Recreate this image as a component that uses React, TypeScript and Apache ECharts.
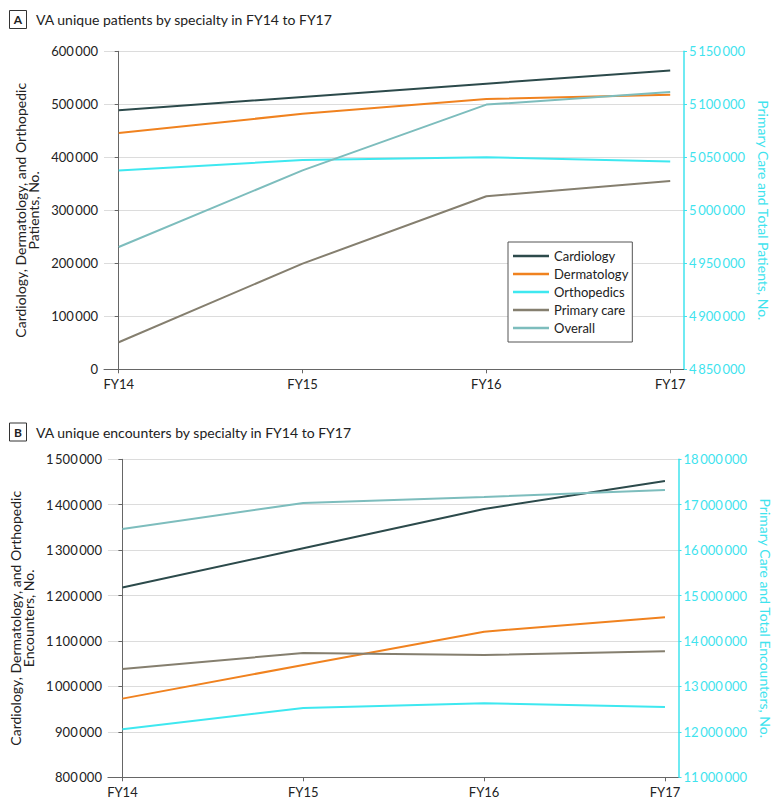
import React, { useEffect, useRef } from "react";
import * as echarts from "echarts";

const fyLabels = ["FY14", "FY15", "FY16", "FY17"];
const seriesNames = ["Cardiology", "Dermatology", "Orthopedics", "Primary care", "Overall"];

// Panel A: unique patients
const patCardiology = [489000, 514000, 539000, 564000];
const patDermatology = [446000, 482000, 510000, 518000];
const patOrthopedics = [375000, 395000, 400000, 392000];
const patPrimaryCare = [4875500, 4949700, 5013200, 5027700];
const patOverall = [4965400, 5037700, 5099700, 5111600];

// Panel B: unique encounters
const encCardiology = [1217600, 1304100, 1390600, 1452300];
const encDermatology = [973200, 1047300, 1120600, 1152200];
const encOrthopedics = [905700, 952600, 962900, 954800];
const encPrimaryCare = [13384000, 13737000, 13693000, 13774000];
const encOverall = [16465000, 17038000, 17170000, 17325000];

const colors: Record<string, string> = {
  Cardiology: "#2c4a4b",
  Dermatology: "#f0821f",
  Orthopedics: "#3ee8f0",
  "Primary care": "#857f6f",
  Overall: "#7dbdbd",
};
const cyan = "#3fe3ee";
const font = "Lato, 'Open Sans', sans-serif";

const fmt = (v: number) => String(v).replace(/\B(?=(\d{3})+(?!\d))/g, "\u2009");

export default function App() {
  const ref = useRef<HTMLDivElement>(null);
  useEffect(() => {
    document.body.style.margin = "0";
    if (!ref.current) return;
    const chart = echarts.init(ref.current, undefined, { renderer: "svg" });

    const mk = (name: string, vals: number[], xi: number, yi: number) => ({
      name,
      type: "line",
      xAxisIndex: xi,
      yAxisIndex: yi,
      symbol: "none",
      lineStyle: { width: 2, color: colors[name] },
      itemStyle: { color: colors[name] },
      data: vals.map((v, i) => [i, v]),
    });

    const xAxisCfg = (gi: number) => ({
      type: "value",
      gridIndex: gi,
      min: -0.08,
      max: 3.075,
      splitLine: { show: false },
      axisLine: { show: true, lineStyle: { color: "#666", width: 1 } },
      axisTick: { show: true, length: 4, customValues: [0, 1, 2, 3], lineStyle: { color: "#666" } },
      axisLabel: {
        customValues: [0, 1, 2, 3],
        formatter: (v: number) => fyLabels[Math.round(v)] ?? "",
        color: "#222",
        fontSize: 13,
        fontFamily: font,
        margin: 8,
      },
    });

    const leftY = (gi: number, min: number, max: number, interval: number, name: string) => ({
      type: "value",
      gridIndex: gi,
      position: "left",
      min,
      max,
      interval,
      name,
      nameLocation: "middle",
      nameRotate: 90,
      nameGap: 55,
      nameTextStyle: { color: "#222", fontSize: 14, fontFamily: font, lineHeight: 13 },
      axisLine: { show: true, lineStyle: { color: "#666", width: 1 } },
      axisTick: { show: true, length: 4, lineStyle: { color: "#666" } },
      axisLabel: { formatter: fmt, color: "#222", fontSize: 13, fontFamily: font, margin: 6 },
      splitLine: { show: true, lineStyle: { color: "#dcdcdc", width: 1 } },
    });

    const rightY = (gi: number, min: number, max: number, interval: number, name: string) => ({
      type: "value",
      gridIndex: gi,
      position: "right",
      min,
      max,
      interval,
      name,
      nameLocation: "middle",
      nameRotate: -90,
      nameGap: 72,
      nameTextStyle: { color: cyan, fontSize: 14, fontFamily: font },
      axisLine: { show: true, lineStyle: { color: cyan, width: 1.5 } },
      axisTick: { show: true, length: 3, lineStyle: { color: cyan } },
      axisLabel: { formatter: fmt, color: cyan, fontSize: 13, fontFamily: font, margin: 5 },
      splitLine: { show: false },
    });

    const titleGraphic = (letter: string, text: string, y: number) => [
      {
        type: "rect",
        shape: { x: 9.5, y: y - 9, width: 17, height: 18 },
        style: { fill: "#fff", stroke: "#333", lineWidth: 1 },
      },
      {
        type: "text",
        x: 18,
        y,
        style: {
          text: letter,
          font: `bold 12px ${font}`,
          fill: "#222",
          textAlign: "center",
          textVerticalAlign: "middle",
        },
      },
      {
        type: "text",
        x: 36,
        y,
        style: {
          text,
          font: `14px ${font}`,
          fill: "#222",
          textAlign: "left",
          textVerticalAlign: "middle",
        },
      },
    ];

    chart.setOption({
      animation: false,
      backgroundColor: "#fff",
      grid: [
        { left: 104, right: 96, top: 51.3, height: 318 },
        { left: 104, right: 96, top: 459.3, height: 318 },
      ],
      xAxis: [xAxisCfg(0), xAxisCfg(1)],
      yAxis: [
        leftY(0, 0, 600000, 100000, "Cardiology, Dermatology, and Orthopedic\nPatients, No."),
        rightY(0, 4850000, 5150000, 50000, "Primary Care and Total Patients, No."),
        leftY(1, 800000, 1500000, 100000, "Cardiology, Dermatology, and Orthopedic\nEncounters, No."),
        rightY(1, 11000000, 18000000, 1000000, "Primary Care and Total Encounters, No."),
      ],
      legend: {
        data: seriesNames,
        orient: "vertical",
        left: 508,
        top: 242,
        icon: "rect",
        itemWidth: 36,
        itemHeight: 2.5,
        itemGap: 4,
        padding: [7, 4, 7, 5],
        borderColor: "#555",
        borderWidth: 1,
        backgroundColor: "#fff",
        textStyle: { color: "#222", fontSize: 13, fontFamily: font, lineHeight: 14 },
      },
      graphic: [
        ...titleGraphic("A", "VA unique patients by specialty in FY14 to FY17", 19.5),
        ...titleGraphic("B", "VA unique encounters by specialty in FY14 to FY17", 432),
      ],
      series: [
        mk("Cardiology", patCardiology, 0, 0),
        mk("Dermatology", patDermatology, 0, 0),
        mk("Orthopedics", patOrthopedics, 0, 0),
        mk("Primary care", patPrimaryCare, 0, 1),
        mk("Overall", patOverall, 0, 1),
        mk("Cardiology", encCardiology, 1, 2),
        mk("Dermatology", encDermatology, 1, 2),
        mk("Orthopedics", encOrthopedics, 1, 2),
        mk("Primary care", encPrimaryCare, 1, 3),
        mk("Overall", encOverall, 1, 3),
      ],
    });
    return () => chart.dispose();
  }, []);
  return <div ref={ref} style={{ width: 780, height: 809 }} />;
}
